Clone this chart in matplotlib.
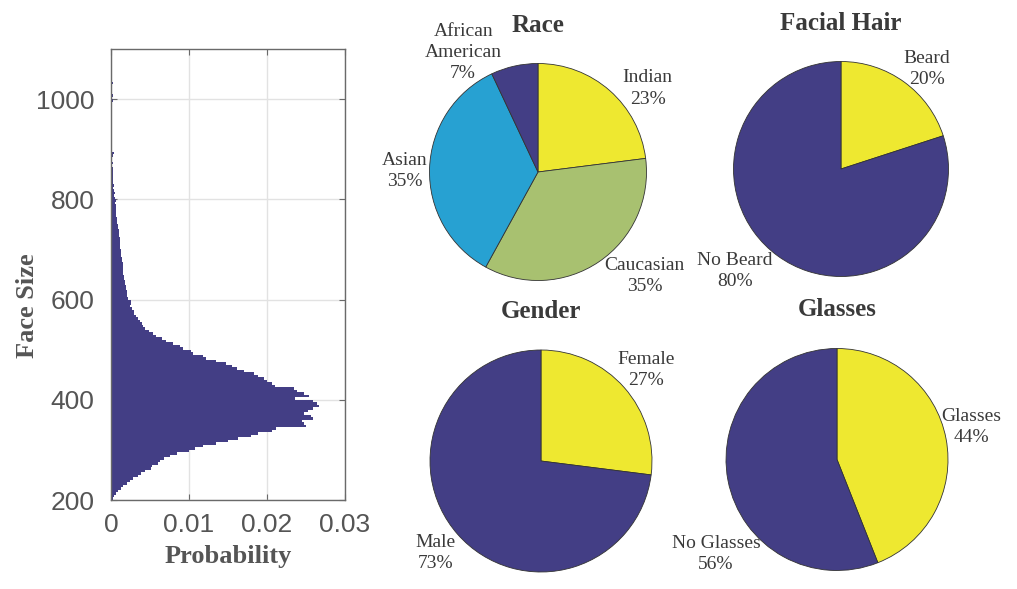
import numpy as np
import matplotlib
matplotlib.use("Agg")
import matplotlib.pyplot as plt

# face size histogram (probability per 5 px bin)
bin_start = 200
bin_width = 5
face_prob = [
    0.0002, 0.0004, 0.0007, 0.0009, 0.0013, 0.0016, 0.0021, 0.0024,  # 200-235
    0.0028, 0.0034, 0.0039, 0.0044, 0.0051, 0.0053, 0.0060, 0.0063,  # 240-275
    0.0068, 0.0076, 0.0085, 0.0100, 0.0108, 0.0118, 0.0135, 0.0150,  # 280-315
    0.0163, 0.0180, 0.0188, 0.0207, 0.0212, 0.0250, 0.0248, 0.0245,  # 320-355
    0.0259, 0.0256, 0.0247, 0.0252, 0.0259, 0.0267, 0.0264, 0.0259,  # 360-395
    0.0236, 0.0254, 0.0247, 0.0238, 0.0234, 0.0210, 0.0207, 0.0200,  # 400-435
    0.0196, 0.0188, 0.0183, 0.0170, 0.0161, 0.0155, 0.0148, 0.0135,  # 440-475
    0.0122, 0.0118, 0.0105, 0.0103, 0.0092, 0.0088, 0.0079, 0.0071,  # 480-515
    0.0066, 0.0058, 0.0054, 0.0049, 0.0044, 0.0041, 0.0040, 0.0037,  # 520-555
    0.0035, 0.0032, 0.0030, 0.0029, 0.0027, 0.0024, 0.0026, 0.0025,  # 560-595
    0.0022, 0.0021, 0.0020, 0.0020, 0.0019, 0.0019, 0.0018, 0.0018,  # 600-635
    0.0017, 0.0017, 0.0016, 0.0016, 0.0016, 0.0015, 0.0015, 0.0014,  # 640-675
    0.0014, 0.0013, 0.0013, 0.0013, 0.0012, 0.0012, 0.0011, 0.0011,  # 680-715
    0.0011, 0.0010, 0.0010, 0.0010, 0.0009, 0.0009, 0.0008, 0.0008,  # 720-755
    0.0008, 0.0007, 0.0007, 0.0006, 0.0006, 0.0006, 0.0005, 0.0006,  # 760-795
    0.0005, 0.0004, 0.0005, 0.0004, 0.0003, 0.0004, 0.0003, 0.0003,  # 800-835
    0.0002, 0.0003, 0.0002, 0.0002, 0.0002, 0.0001, 0.0002, 0.0001,  # 840-875
    0.0001, 0.0002, 0.0004, 0.0001, 0.0001, 0.0001, 0.0001, 0.0000,  # 880-915
    0.0001, 0.0001, 0.0000, 0.0001, 0.0000, 0.0001, 0.0000, 0.0001,  # 920-955
    0.0000, 0.0001, 0.0000, 0.0001, 0.0001, 0.0000, 0.0001, 0.0002,  # 960-995
    0.0001, 0.0002, 0.0001, 0.0000, 0.0001, 0.0000, 0.0002, 0.0000,  # 1000-1035
]

race_labels = ['Indian', 'Caucasian', 'Asian', 'African\nAmerican']
race_pct = [23, 35, 35, 7]
hair_labels = ['Beard', 'No Beard']
hair_pct = [20, 80]
gender_labels = ['Female', 'Male']
gender_pct = [27, 73]
glasses_labels = ['Glasses', 'No Glasses']
glasses_pct = [44, 56]

DARK = '#433E85'
YELLOW = '#EEE830'
GREEN = '#A8C170'
BLUE = '#27A1D2'
GRAY = '#555555'
TXT = '#3a3a3a'

W, H = 1017, 589
fig = plt.figure(figsize=(W / 100, H / 100), dpi=100)

# ---- histogram ----
ax = fig.add_axes([111 / W, 1 - 500 / H, 234 / W, 451 / H])
edges = bin_start + bin_width * np.arange(len(face_prob) + 1)
ax.stairs(face_prob, edges, orientation='horizontal', fill=True, color=DARK, linewidth=0)
ax.set_ylim(200, 1100)
ax.set_xlim(0, 0.03)
ax.set_yticks([200, 400, 600, 800, 1000])
ax.set_xticks([0, 0.01, 0.02, 0.03])
ax.set_xticklabels(['0', '0.01', '0.02', '0.03'])
ax.grid(True, color='#e2e2e2', linewidth=1)
ax.set_axisbelow(True)
for s in ax.spines.values():
    s.set_color('#6a6a6a')
    s.set_linewidth(1)
ax.tick_params(direction='in', length=4, color='#6a6a6a', top=True, right=True,
               labelsize=19, labelcolor=GRAY)
ax.tick_params(axis='y', pad=12)
ax.tick_params(axis='x', pad=9)
for t in ax.get_xticklabels() + ax.get_yticklabels():
    t.set_fontfamily('Liberation Sans')
ax.set_ylabel('Face Size', family='Liberation Serif', weight='bold', size=19, color=GRAY)
ax.set_xlabel('Probability', family='Liberation Serif', weight='bold', size=19, color=GRAY)
ax.yaxis.set_label_coords(-0.355, 0.43)
ax.xaxis.set_label_coords(0.5, -0.126)
ax.yaxis.label.set_va('center')
ax.xaxis.label.set_va('center')


# ---- pies ----
def pie_panel(cx, cy, r, title, labels, pct, colors, label_pos):
    lim = 1.6
    a = fig.add_axes([(cx - lim * r) / W, 1 - (cy + lim * r) / H,
                      2 * lim * r / W, 2 * lim * r / H])
    a.pie(pct, colors=colors, startangle=90, counterclock=False, radius=1,
          wedgeprops=dict(edgecolor='#333333', linewidth=0.6))
    a.set_xlim(-lim, lim)
    a.set_ylim(-lim, lim)
    a.set_aspect('auto')
    a.axis('off')
    a.text(0, 1.35, title, ha='center', va='center', family='Liberation Serif',
           weight='bold', size=18, color=TXT)
    for lab, p, (lx, ly) in zip(labels, pct, label_pos):
        a.text(lx, ly, f'{lab}\n{p}%', ha='center', va='center', multialignment='center',
               family='Liberation Serif', size=14, color=TXT, linespacing=1.32)


pie_panel(538, 172, 108.5, 'Race', race_labels, race_pct, [YELLOW, GREEN, BLUE, DARK],
          [(1.01, 0.77), (0.98, -0.96), (-1.23, 0.01), (-0.69, 1.10)])
pie_panel(841, 169, 107.5, 'Facial Hair', hair_labels, hair_pct, [YELLOW, DARK],
          [(0.80, 0.93), (-0.99, -0.95)])
pie_panel(541, 461, 111, 'Gender', gender_labels, gender_pct, [YELLOW, DARK],
          [(0.95, 0.82), (-0.95, -0.83)])
pie_panel(837, 459.5, 111, 'Glasses', glasses_labels, glasses_pct, [YELLOW, DARK],
          [(1.21, 0.29), (-1.09, -0.85)])

fig.savefig('out.png', dpi=100)
